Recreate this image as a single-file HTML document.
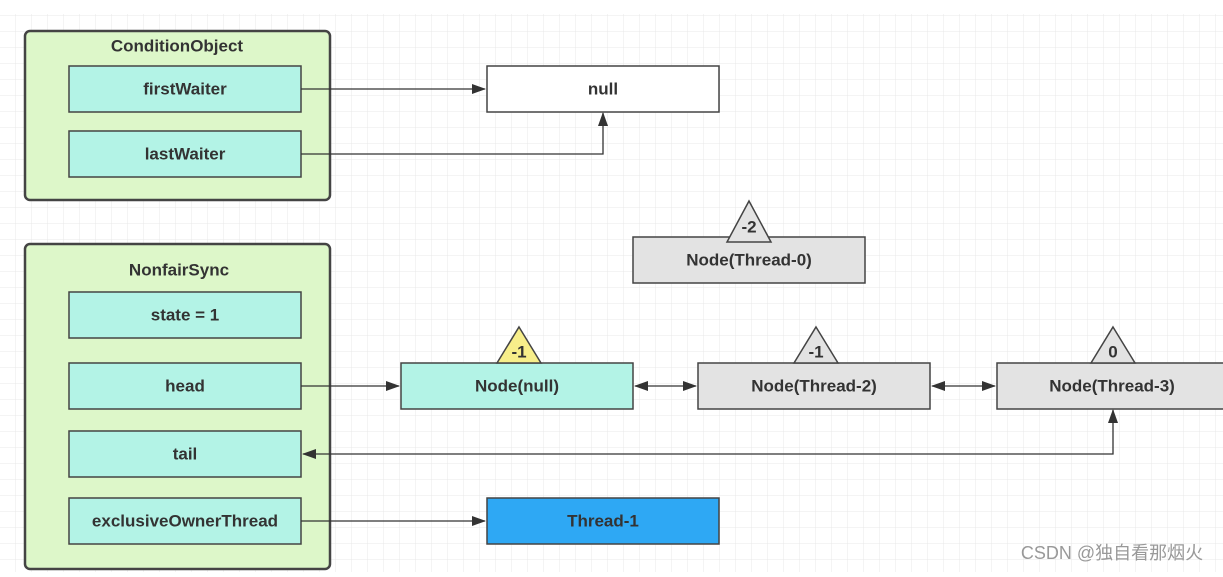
<!DOCTYPE html>
<html><head><meta charset="utf-8"><style>
html,body{margin:0;padding:0;background:#fff;}
svg text{font-family:"Liberation Sans","Noto Sans CJK SC",sans-serif;font-weight:bold;fill:#333;text-anchor:middle;dominant-baseline:central;font-size:17px;}
</style></head><body>
<svg width="1223" height="572" viewBox="0 0 1223 572" xmlns="http://www.w3.org/2000/svg">
<defs>
<pattern id="g" width="16" height="16" patternUnits="userSpaceOnUse"><path d="M16 0V16H0" fill="none" stroke="#e8e8e8" stroke-width="1"/></pattern>
<marker id="a" markerWidth="14" markerHeight="10" refX="13" refY="5" orient="auto" markerUnits="userSpaceOnUse"><path d="M0 0L14 5L0 10z" fill="#333"/></marker>
<marker id="b" markerWidth="14" markerHeight="10" refX="1" refY="5" orient="auto" markerUnits="userSpaceOnUse"><path d="M14 0L0 5L14 10z" fill="#333"/></marker>
</defs>
<rect width="1223" height="572" fill="#fff"/>
<rect x="0" y="14" width="1223" height="558" fill="url(#g)"/>
<g stroke="#444" stroke-width="1.5">
<rect x="25" y="31" width="305" height="169" rx="5" fill="#ddf7c9" stroke-width="2.5"/>
<rect x="25" y="244" width="305" height="325" rx="5" fill="#ddf7c9" stroke-width="2.5"/>
<rect x="69" y="66" width="232" height="46" fill="#b3f3e6"/>
<rect x="69" y="131" width="232" height="46" fill="#b3f3e6"/>
<rect x="69" y="292" width="232" height="46" fill="#b3f3e6"/>
<rect x="69" y="363" width="232" height="46" fill="#b3f3e6"/>
<rect x="69" y="431" width="232" height="46" fill="#b3f3e6"/>
<rect x="69" y="498" width="232" height="46" fill="#b3f3e6"/>
<rect x="487" y="66" width="232" height="46" fill="#fff"/>
<rect x="633" y="237" width="232" height="46" fill="#e3e3e3"/>
<rect x="401" y="363" width="232" height="46" fill="#b3f3e6"/>
<rect x="698" y="363" width="232" height="46" fill="#e3e3e3"/>
<rect x="997" y="363" width="228" height="46" fill="#e3e3e3"/>
<rect x="487" y="498" width="232" height="46" fill="#2ea8f4"/>
<path d="M749 201L771 242H727z" fill="#e3e3e3"/>
<path d="M519 327L541 363H497z" fill="#f7ee8a"/>
<path d="M816 327L838 363H794z" fill="#e3e3e3"/>
<path d="M1113 327L1135 363H1091z" fill="#e3e3e3"/>
</g>
<g stroke="#333" stroke-width="1.3" fill="none">
<path d="M301 89H485" marker-end="url(#a)"/>
<path d="M301 154H603V113" marker-end="url(#a)"/>
<path d="M301 386H399" marker-end="url(#a)"/>
<path d="M635 386H696" marker-start="url(#b)" marker-end="url(#a)"/>
<path d="M932 386H995" marker-start="url(#b)" marker-end="url(#a)"/>
<path d="M1113 410V454H303" marker-start="url(#b)" marker-end="url(#a)"/>
<path d="M301 521H485" marker-end="url(#a)"/>
</g>
<text x="177" y="46">ConditionObject</text>
<text x="185" y="89">firstWaiter</text>
<text x="185" y="154">lastWaiter</text>
<text x="179" y="270">NonfairSync</text>
<text x="185" y="315">state = 1</text>
<text x="185" y="386">head</text>
<text x="185" y="454">tail</text>
<text x="185" y="521">exclusiveOwnerThread</text>
<text x="603" y="89">null</text>
<text x="749" y="260">Node(Thread-0)</text>
<text x="517" y="386">Node(null)</text>
<text x="814" y="386">Node(Thread-2)</text>
<text x="1112" y="386">Node(Thread-3)</text>
<text x="603" y="521">Thread-1</text>
<text x="749" y="227" font-size="13">-2</text>
<text x="519" y="352" font-size="13">-1</text>
<text x="816" y="352" font-size="13">-1</text>
<text x="1113" y="352" font-size="13">0</text>
<text x="1112" y="553" style="font-weight:normal;fill:#999;font-size:18px">CSDN @独自看那烟火</text>
</svg>
</body></html>
